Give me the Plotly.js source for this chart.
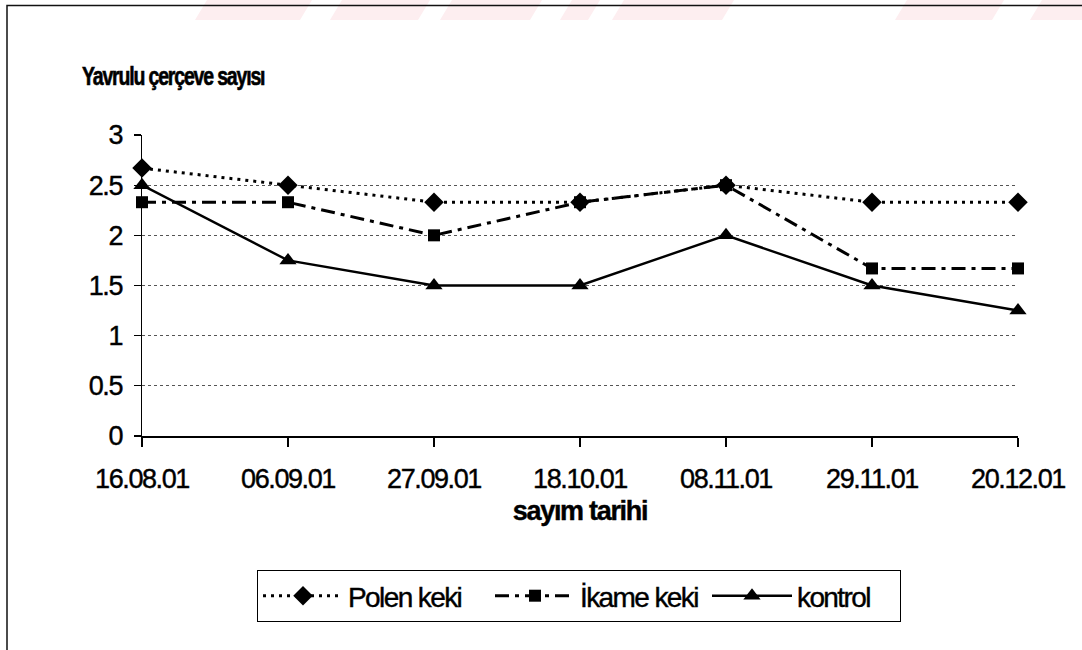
<!DOCTYPE html>
<html>
<head>
<meta charset="utf-8">
<script src="https://cdn.plot.ly/plotly-3.0.1.min.js"></script>
<style>
  html, body { margin: 0; padding: 0; background: #fff; }
  #chart { width: 1082px; height: 650px; }
  .xtick text, .ytick text { letter-spacing: -1.4px; stroke: #000; stroke-width: 0.4px; }
  .legendtext { letter-spacing: -1.6px; stroke: #000; stroke-width: 0.4px; }
  .gtitle { letter-spacing: -1.5px; stroke: #000; stroke-width: 0.6px;
            transform-box: fill-box; transform-origin: left center; transform: scaleX(0.78); }
  .xtitle { letter-spacing: -1.3px; stroke: #000; stroke-width: 0.4px; }
</style>
</head>
<body>
<div id="chart"></div>
<script>
// ---- data ----
const dates = ["16.08.01", "06.09.01", "27.09.01", "18.10.01", "08.11.01", "29.11.01", "20.12.01"];
const polenKeki = [2.67, 2.5, 2.33, 2.33, 2.5, 2.33, 2.33];
const ikameKeki = [2.33, 2.33, 2.0, 2.33, 2.5, 1.67, 1.67];
const kontrol   = [2.5, 1.75, 1.5, 1.5, 2.0, 1.5, 1.25];
const seriesNames = ["Polen keki", "İkame keki", "kontrol"];
const yTicks = [0, 0.5, 1, 1.5, 2, 2.5, 3];

const W = 1082, H = 650;
const L = 142, R = 1018, T = 135, B = 436;
const px = v => (v - L) / (R - L);
const py = v => (B - v) / (B - T);

const traces = [
  {
    x: dates, y: polenKeki, name: seriesNames[0], type: "scatter", mode: "lines+markers",
    line: { color: "#000", width: 3, dash: "3px,5px" },
    marker: { symbol: "diamond", size: 15, color: "#000" },
    cliponaxis: false, legendwidth: 137
  },
  {
    x: dates, y: ikameKeki, name: seriesNames[1], type: "scatter", mode: "lines+markers",
    line: { color: "#000", width: 3, dash: "14px,6px,4px,6px" },
    marker: { symbol: "square", size: 12, color: "#000" },
    cliponaxis: false, legendwidth: 122
  },
  {
    x: dates, y: kontrol, name: seriesNames[2], type: "scatter", mode: "lines+markers",
    line: { color: "#000", width: 2.4, dash: "solid" },
    marker: { symbol: "triangle-up", size: 15, color: "#000" },
    cliponaxis: false, legendwidth: 98
  }
];

// faint watermark bands along the top edge (decoration)
const pinkBands = [[195, 300], [330, 418], [440, 530], [560, 588], [612, 722], [895, 992], [1030, 1095]];
const shapes = pinkBands.map(([a, b]) => ({
  type: "path", xref: "paper", yref: "paper",
  path: `M ${px(a)} ${py(20)} L ${px(a + 12)} ${py(0)} L ${px(b + 12)} ${py(0)} L ${px(b)} ${py(20)} Z`,
  fillcolor: "#fdeef0", line: { width: 0 }, layer: "below"
}));
// outer frame
shapes.push({
  type: "rect", xref: "paper", yref: "paper",
  x0: px(7), x1: px(1100), y0: py(700), y1: py(5.5),
  line: { color: "#111", width: 1.5 }, fillcolor: "rgba(0,0,0,0)"
});

const layout = {
  width: W, height: H,
  margin: { l: L, r: W - R, t: T, b: H - B, pad: 0 },
  paper_bgcolor: "#fff", plot_bgcolor: "#fff",
  font: { family: "Liberation Sans, Arial, sans-serif", color: "#000" },
  title: {
    text: "<b>Yavrulu çerçeve sayısı</b>",
    x: 82 / W, xanchor: "left", xref: "container",
    y: 1 - 76 / H, yanchor: "middle", yref: "container",
    font: { size: 25, family: "Liberation Sans, Arial, sans-serif", color: "#000" }
  },
  xaxis: {
    type: "category", range: [0, 6],
    showline: true, linecolor: "#000", linewidth: 1.5,
    ticks: "outside", ticklen: 9, tickcolor: "#000", tickwidth: 1.3,
    showgrid: false, zeroline: false,
    tickfont: { size: 27, color: "#000" },
    ticklabelstandoff: 9,
    title: { text: "<b>sayım tarihi</b>", font: { size: 27, color: "#000" }, standoff: 8 }
  },
  yaxis: {
    range: [0, 3], tickvals: yTicks, ticktext: yTicks.map(String),
    showline: true, linecolor: "#000", linewidth: 1.5,
    ticks: "outside", ticklen: 7, tickcolor: "#000", tickwidth: 1.3,
    showgrid: true, gridcolor: "#555", gridwidth: 1, griddash: "dot",
    zeroline: false,
    tickfont: { size: 27, color: "#000" },
    ticklabelstandoff: 6
  },
  showlegend: true,
  legend: {
    orientation: "h", x: px(579), xanchor: "center", y: py(596), yanchor: "middle",
    bordercolor: "#000", borderwidth: 1, bgcolor: "#fff",
    font: { size: 28, color: "#000" },
    itemwidth: 80, tracegroupgap: 0
  },
  shapes: shapes
};

Plotly.newPlot("chart", traces, layout, { displayModeBar: false, staticPlot: true });
</script>
</body>
</html>
